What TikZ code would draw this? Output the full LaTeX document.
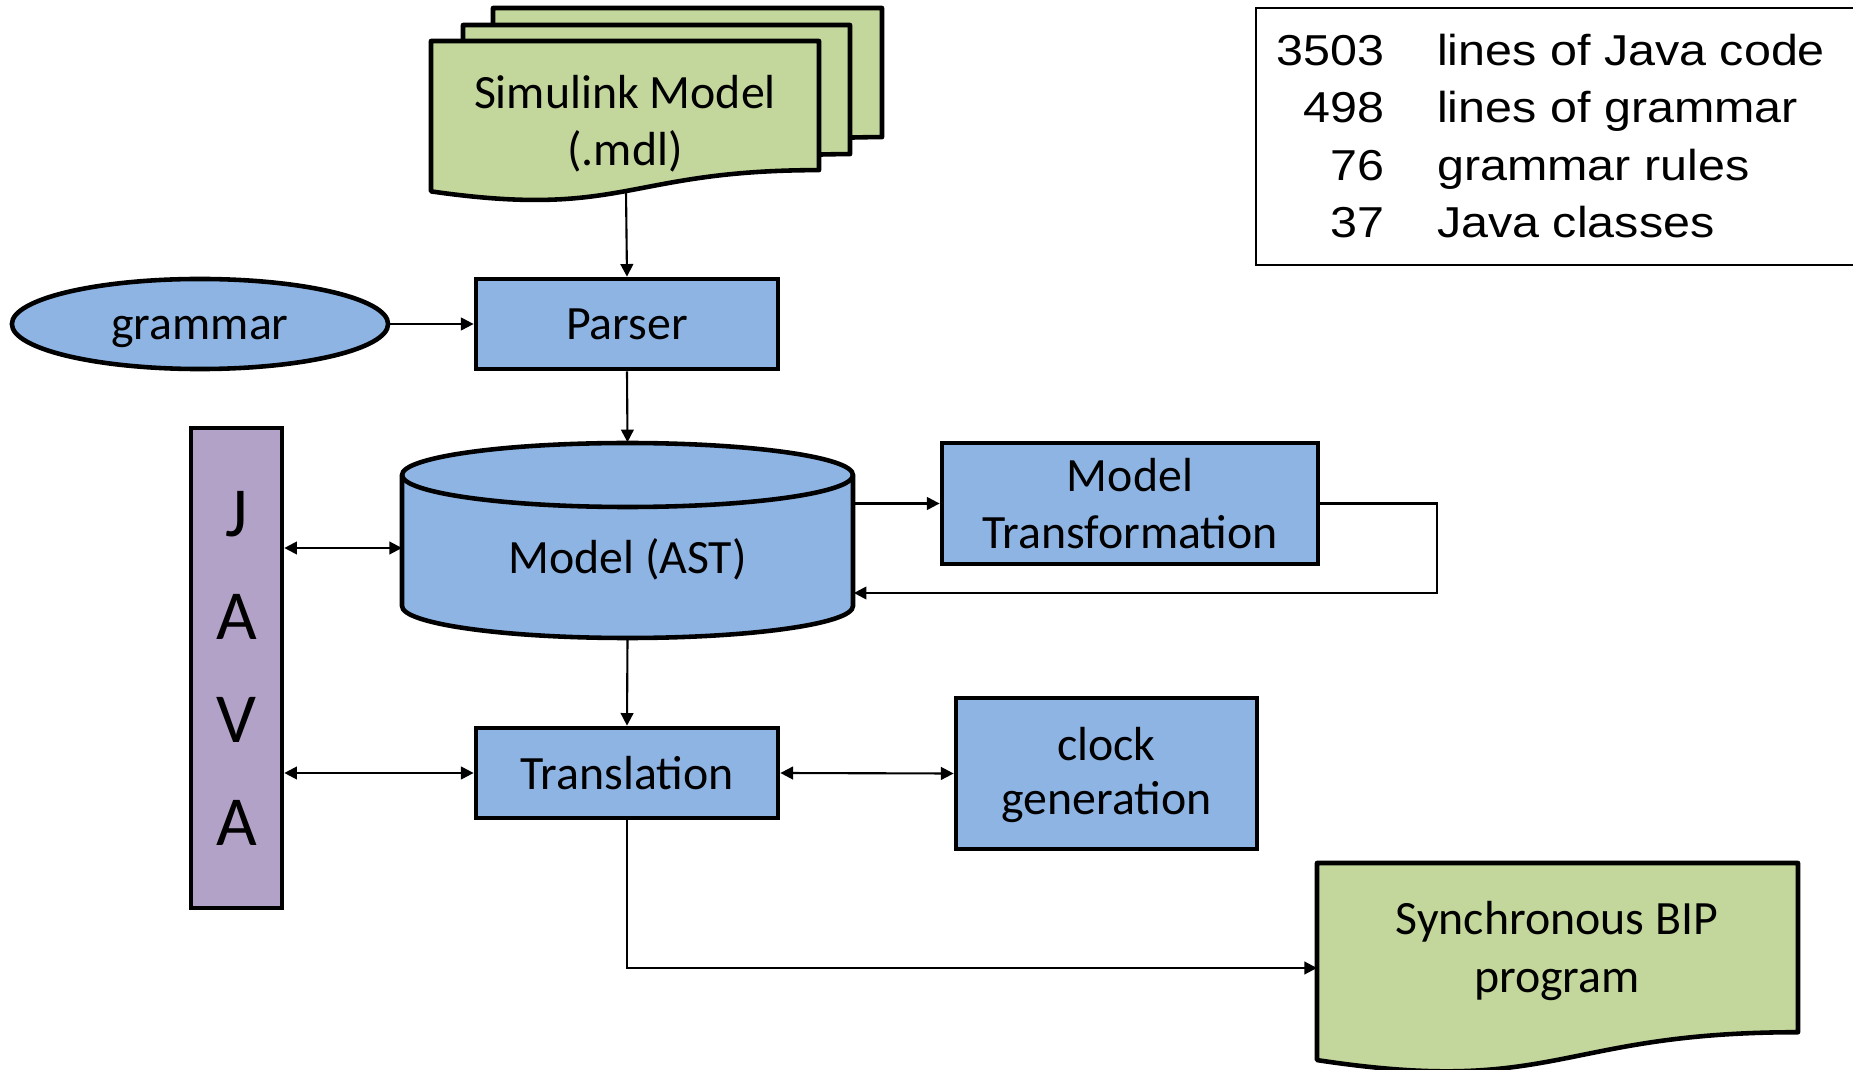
\documentclass[tikz,border=0pt]{standalone}
\usepackage{fontspec}
\setmainfont{Carlito}
\newfontfamily\statfont[FakeStretch=1.12]{Liberation Sans}
\usetikzlibrary{shapes.geometric,arrows.meta}
\definecolor{boxblue}{RGB}{142,180,227}
\definecolor{docgreen}{RGB}{195,214,155}
\definecolor{javapurple}{RGB}{179,162,199}
\newcommand\docsheet[4]{\filldraw[fill=docgreen,line width=1.3pt,line join=round]
  (#1,#2) -- ++(#3,0) -- ++(0,{0.802*#4})
  .. controls +({-0.5*#3},0) and +({0.5*#3},{0.1735*#4}) .. ++(-#3,{0.132*#4}) -- cycle;}

\begin{document}
\begin{tikzpicture}[x=0.01cm,y=-0.01cm]
\tikzset{
  box/.style={draw,fill=boxblue,line width=1.3pt,minimum width=3.02cm,
    minimum height=0.9cm,align=center,font=\fontsize{13.6}{16.3}\selectfont},
  doctext/.style={align=center,font=\fontsize{13.6}{16.3}\selectfont},
  conn/.style={-{Triangle[length=3.6pt,width=3.6pt]},line width=0.6pt},
  biconn/.style={{Triangle[length=3.6pt,width=3.6pt]}-{Triangle[length=3.6pt,width=3.6pt]},line width=0.6pt}
}
\useasboundingbox (0,0) rectangle (1853,1070);

\docsheet{493}{8}{389}{161}
\docsheet{463}{25}{387}{161}
\docsheet{431}{41}{388}{161}
\node[doctext] (sim) at (625,124) {Simulink Model\\(.mdl)};
\coordinate (simbot) at (626,191);

\node[box,shape=ellipse,minimum width=3.76cm] (grammar) at (200,324) {\vphantom{P}\smash{grammar}};
\node[box] (parser) at (627,324) {Parser};

\filldraw[fill=boxblue,line width=1.3pt] (402,475) -- (402,606)
  arc[start angle=180,end angle=0,x radius=225.5,y radius=32] -- (853,475)
  arc[start angle=0,end angle=-180,x radius=225.5,y radius=32] -- cycle;
\draw[line width=1.3pt] (402,475) arc[start angle=180,end angle=0,x radius=225.5,y radius=32];
\node[doctext,minimum width=4.51cm,minimum height=1.95cm] (ast) at (627.5,540.5)
  {\raisebox{-5.3pt}[\height][\depth]{Model (AST)}};
\coordinate (astL) at (402,548);
\coordinate (loopR) at (1437,593);

\node[box,minimum width=3.76cm,minimum height=1.21cm] (mt) at (1130,503.5) {Model\\Transformation};
\node[box,fill=javapurple,minimum width=0.91cm,minimum height=4.8cm,
  font=\fontsize{20}{29.3}\selectfont] (java) at (236.5,668) {J\\A\\V\\A};
\node[box] (trans) at (627,773) {Translation};
\node[box,minimum width=3.01cm,minimum height=1.51cm] (clock) at (1106.5,773.5)
  {\raisebox{-1pt}[\height][\depth]{clock}\\generation};

\docsheet{1317}{863}{481}{211}
\node[doctext] (bip) at (1557,951) {Synchronous BIP\\program};
\coordinate (bipin) at (1317,968);

\draw[line width=0.6pt] (1256,8) rectangle (1900,265);
\node[anchor=west,inner sep=0pt,font=\statfont\fontsize{12.3}{16.3}\selectfont] (stats) at (1276,140)
  {\begin{tabular}{@{}r@{\hspace{15pt}}l@{}}
   3503 & lines of Java code\\
   498 & lines of grammar\\
   76 & grammar rules\\
   37 & Java classes
  \end{tabular}};

\draw[conn] (simbot) -- (parser.north);
\draw[conn] (grammar.east) -- (parser.west);
\draw[conn] (parser.south) -- (ast.north);
\draw[biconn] (java.east |- astL) -- (astL);
\draw[conn] (ast.east |- mt.west) -- (mt.west);
\draw[conn] (mt.east) -- (mt.east -| loopR) -- (loopR) -- (ast.east |- loopR);
\draw[conn] (ast.south) -- (trans.north);
\draw[biconn] (java.east |- trans.west) -- (trans.west);
\draw[biconn] (trans.east) -- (clock.west);
\draw[conn] (trans.south) |- (bipin);
\end{tikzpicture}
\end{document}
